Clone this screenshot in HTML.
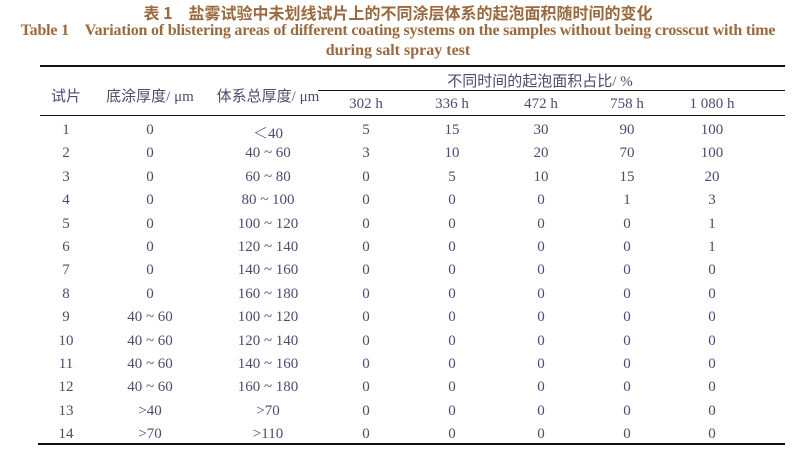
<!DOCTYPE html><html><head><meta charset="utf-8"><style>
body{margin:0;width:796px;height:454px;background:#fff;position:relative;overflow:hidden;font-family:"Liberation Serif","Noto Serif CJK SC",serif;}
.t{position:absolute;white-space:nowrap;line-height:20px}
.ti{color:#9a6a3e;font-weight:bold;left:0;width:796px;text-align:center}
.c{position:absolute;color:#55476e;font-size:15px;transform:translateX(-50%);white-space:nowrap}
.l{position:absolute;background:#111}
</style></head><body>
<div class="t ti" style="top:2px;font-size:16px;font-family:'Noto Sans CJK SC',sans-serif">表 1　盐雾试验中未划线试片上的不同涂层体系的起泡面积随时间的变化</div>
<div class="t ti" style="top:21px;font-size:16px;letter-spacing:-0.2px">Table 1　Variation of blistering areas of different coating systems on the samples without being crosscut with time</div>
<div class="t ti" style="top:41px;font-size:16px">during salt spray test</div>
<div class="l" style="left:40px;top:65px;width:745px;height:2px"></div>
<div class="l" style="left:318px;top:90px;width:467px;height:1px"></div>
<div class="l" style="left:40px;top:115px;width:745px;height:1px"></div>
<div class="l" style="left:38px;top:443px;width:747px;height:2px"></div>
<div class="c" style="left:66px;top:85px;font-family:'Liberation Serif','Noto Sans CJK SC',serif">试片</div>
<div class="c" style="left:150px;top:85px;font-family:'Liberation Serif','Noto Sans CJK SC',serif">底涂厚度/ μm</div>
<div class="c" style="left:268px;top:85px;font-family:'Liberation Serif','Noto Sans CJK SC',serif">体系总厚度/ μm</div>
<div class="c" style="left:540px;top:70px;font-family:'Liberation Serif','Noto Sans CJK SC',serif">不同时间的起泡面积占比/ %</div>
<div class="c" style="left:366px;top:96px">302 h</div>
<div class="c" style="left:452px;top:96px">336 h</div>
<div class="c" style="left:541px;top:96px">472 h</div>
<div class="c" style="left:627px;top:96px">758 h</div>
<div class="c" style="left:712px;top:96px">1 080 h</div>
<div id="rows"></div>
<script>
var d=[["1","0","＜40","5","15","30","90","100"],["2","0","40 ~ 60","3","10","20","70","100"],["3","0","60 ~ 80","0","5","10","15","20"],["4","0","80 ~ 100","0","0","0","1","3"],["5","0","100 ~ 120","0","0","0","0","1"],["6","0","120 ~ 140","0","0","0","0","1"],["7","0","140 ~ 160","0","0","0","0","0"],["8","0","160 ~ 180","0","0","0","0","0"],["9","40 ~ 60","100 ~ 120","0","0","0","0","0"],["10","40 ~ 60","120 ~ 140","0","0","0","0","0"],["11","40 ~ 60","140 ~ 160","0","0","0","0","0"],["12","40 ~ 60","160 ~ 180","0","0","0","0","0"],["13","&gt;40","&gt;70","0","0","0","0","0"],["14","&gt;70","&gt;110","0","0","0","0","0"]];
var x=[66,150,268,366,452,541,627,712],h="";
d.forEach(function(r,i){r.forEach(function(v,j){h+='<div class="c" style="left:'+x[j]+'px;top:'+(122+i*23.4)+'px">'+v+'</div>';});});
document.getElementById("rows").innerHTML=h;
</script>
</body></html>
